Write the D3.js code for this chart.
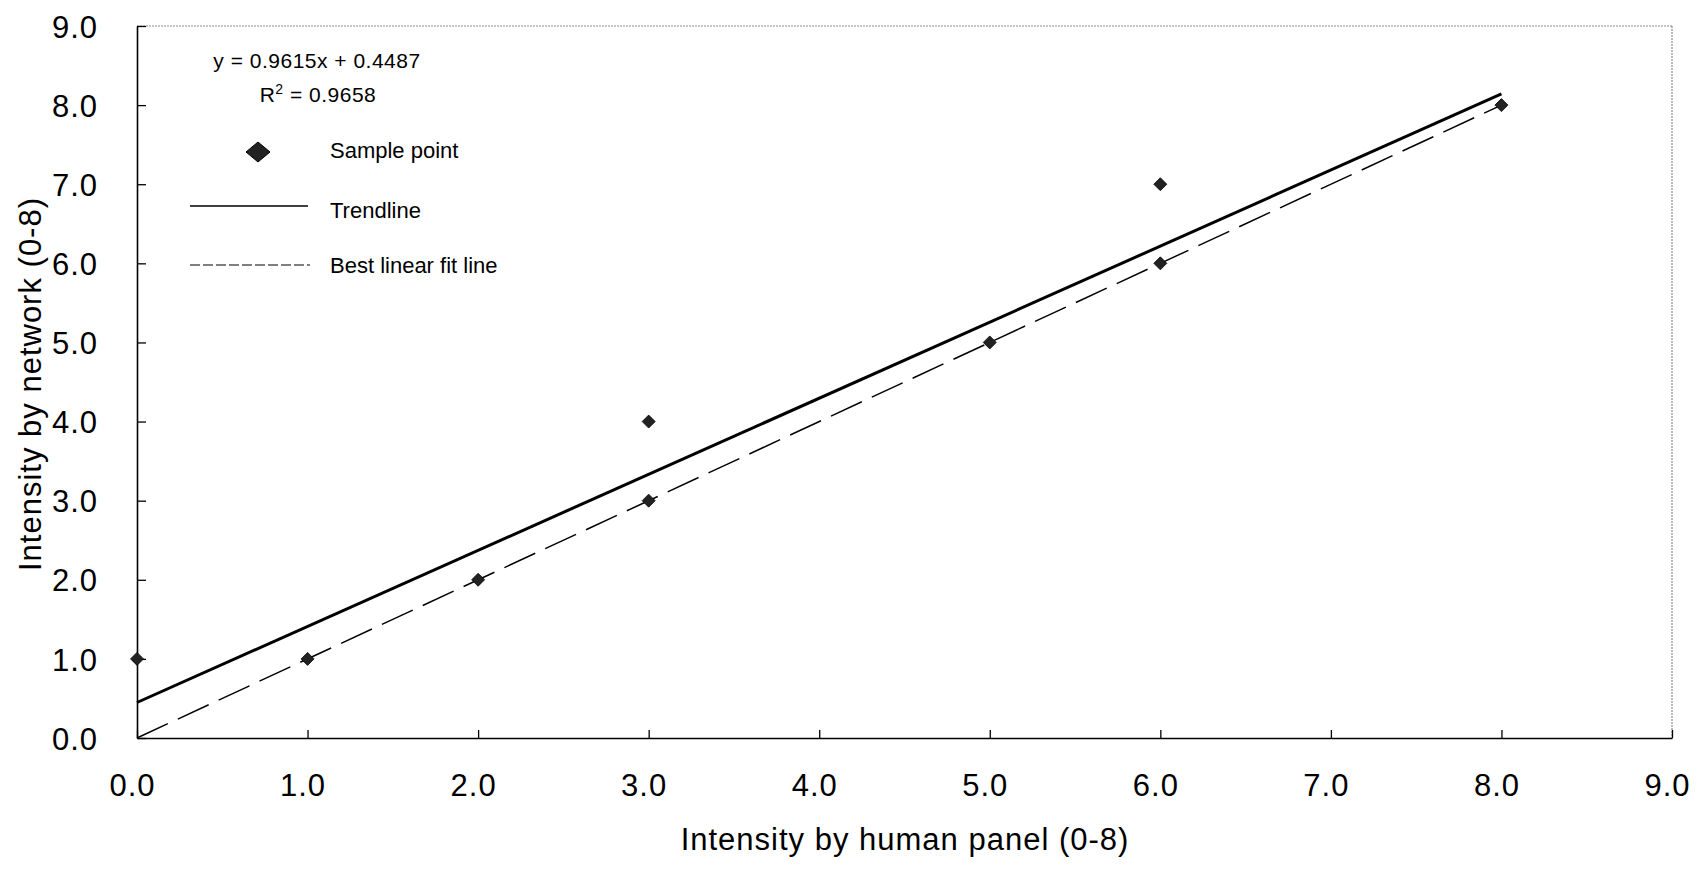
<!DOCTYPE html>
<html>
<head>
<meta charset="utf-8">
<script src="https://cdn.jsdelivr.net/npm/d3@7"></script>
<style>
  html, body { margin: 0; padding: 0; background: #fff; }
  svg { display: block; font-family: "Liberation Sans", Arial, sans-serif; }
</style>
</head>
<body>
<svg id="chart" width="1702" height="869"></svg>
<script>
// ---- data ----
const humanPanel = [0, 1, 2, 3, 3, 5, 6, 6, 8];
const network    = [1, 1, 2, 3, 4, 5, 6, 7, 8];
const xTicks = [0, 1, 2, 3, 4, 5, 6, 7, 8, 9];
const yTicks = [0, 1, 2, 3, 4, 5, 6, 7, 8, 9];
const trendSlope = 0.9615;
const trendIntercept = 0.4487;
const rSquared = 0.9658;
const lineDomain = [0, 8];
const xTitle = "Intensity by human panel (0-8)";
const yTitle = "Intensity by network (0-8)";
const legendLabels = ["Sample point", "Trendline", "Best linear fit line"];

// ---- layout ----
const svg = d3.select("#chart");
const L = 137, R = 1672, T = 26, B = 738;
const x = d3.scaleLinear().domain([0, 9]).range([L, R]);
const y = d3.scaleLinear().domain([0, 9]).range([B, T]);
const fmt = d3.format(".1f");

function diamond(rx, ry) {
  return `M0,${-ry}L${rx},0L0,${ry}L${-rx},0Z`;
}

// frame: top and right borders thin grey
svg.append("line").attr("x1", L).attr("x2", R).attr("y1", T).attr("y2", T)
  .attr("stroke", "#8a8a8a").attr("stroke-width", 1.2).attr("stroke-dasharray", "2,1");
svg.append("line").attr("x1", R).attr("x2", R).attr("y1", T).attr("y2", B)
  .attr("stroke", "#8a8a8a").attr("stroke-width", 1.2).attr("stroke-dasharray", "2,1");

// axes
const xAxis = d3.axisBottom(x).tickValues(xTicks).tickFormat(fmt).tickSizeInner(-8).tickSizeOuter(0).tickPadding(38);
const yAxis = d3.axisLeft(y).tickValues(yTicks).tickFormat(fmt).tickSizeInner(-9).tickSizeOuter(0).tickPadding(48);

const gx = svg.append("g").attr("transform", `translate(0,${B})`).call(xAxis);
const gy = svg.append("g").attr("transform", `translate(${L},0)`).call(yAxis);

[gx, gy].forEach(g => {
  g.select(".domain").attr("stroke", "#000").attr("stroke-width", 1.6);
  g.selectAll(".tick line").attr("stroke", "#000").attr("stroke-width", 1.3);
  g.selectAll(".tick text").attr("fill", "#000")
    .attr("font-size", 31).attr("letter-spacing", 1)
    .attr("font-family", "'Liberation Sans', Arial, sans-serif");
});
gx.selectAll(".tick text").attr("dx", -5).attr("dy", "0.71em").attr("y", 36);
gy.selectAll(".tick text").attr("x", -39).attr("dy", "0.36em");

// axis titles
svg.append("text").attr("x", 905).attr("y", 850)
  .attr("text-anchor", "middle").attr("font-size", 31).attr("letter-spacing", 1)
  .attr("fill", "#000").text(xTitle);
svg.append("text")
  .attr("transform", `translate(41,${(T + B) / 2 + 2}) rotate(-90)`)
  .attr("text-anchor", "middle").attr("font-size", 31).attr("letter-spacing", 1)
  .attr("fill", "#000").text(yTitle);

// best linear fit line (y = x), dashed
svg.append("line")
  .attr("x1", x(lineDomain[0])).attr("y1", y(lineDomain[0]))
  .attr("x2", x(lineDomain[1])).attr("y2", y(lineDomain[1]))
  .attr("stroke", "#000").attr("stroke-width", 1.5).attr("stroke-dasharray", "34,11");

// trendline
svg.append("line")
  .attr("x1", x(lineDomain[0])).attr("y1", y(trendSlope * lineDomain[0] + trendIntercept))
  .attr("x2", x(lineDomain[1])).attr("y2", y(trendSlope * lineDomain[1] + trendIntercept))
  .attr("stroke", "#000").attr("stroke-width", 3);

// sample points
svg.append("g").selectAll("path")
  .data(humanPanel.map((v, i) => [v, network[i]]))
  .join("path")
  .attr("transform", d => `translate(${x(d[0])},${y(d[1])})`)
  .attr("d", diamond(6.5, 6.5))
  .attr("fill", "#222").attr("stroke", "#000").attr("stroke-width", 0.8);

// equation text
svg.append("text").attr("x", 317).attr("y", 68).attr("text-anchor", "middle")
  .attr("font-size", 21).attr("letter-spacing", 0.5).attr("fill", "#000")
  .text(`y = ${trendSlope}x + ${trendIntercept}`);
const r2 = svg.append("text").attr("x", 318).attr("y", 102).attr("text-anchor", "middle")
  .attr("font-size", 21).attr("letter-spacing", 0.5).attr("fill", "#000");
r2.append("tspan").text("R");
r2.append("tspan").attr("dy", -8).attr("font-size", 14).text("2");
r2.append("tspan").attr("dy", 8).text(` = ${rSquared}`);

// legend
const leg = svg.append("g");
leg.append("path").attr("transform", "translate(258,152)").attr("d", diamond(12, 10))
  .attr("fill", "#222").attr("stroke", "#000").attr("stroke-width", 1);
leg.append("line").attr("x1", 190).attr("x2", 308).attr("y1", 206).attr("y2", 206)
  .attr("stroke", "#000").attr("stroke-width", 1.5);
leg.append("line").attr("x1", 190).attr("x2", 310).attr("y1", 265).attr("y2", 265)
  .attr("stroke", "#000").attr("stroke-width", 1.2).attr("stroke-dasharray", "10,3");
const legY = [158, 218, 273];
leg.selectAll("text").data(legendLabels).join("text")
  .attr("x", 330).attr("y", (d, i) => legY[i])
  .attr("font-size", 22).attr("fill", "#000").text(d => d);
</script>
</body>
</html>
